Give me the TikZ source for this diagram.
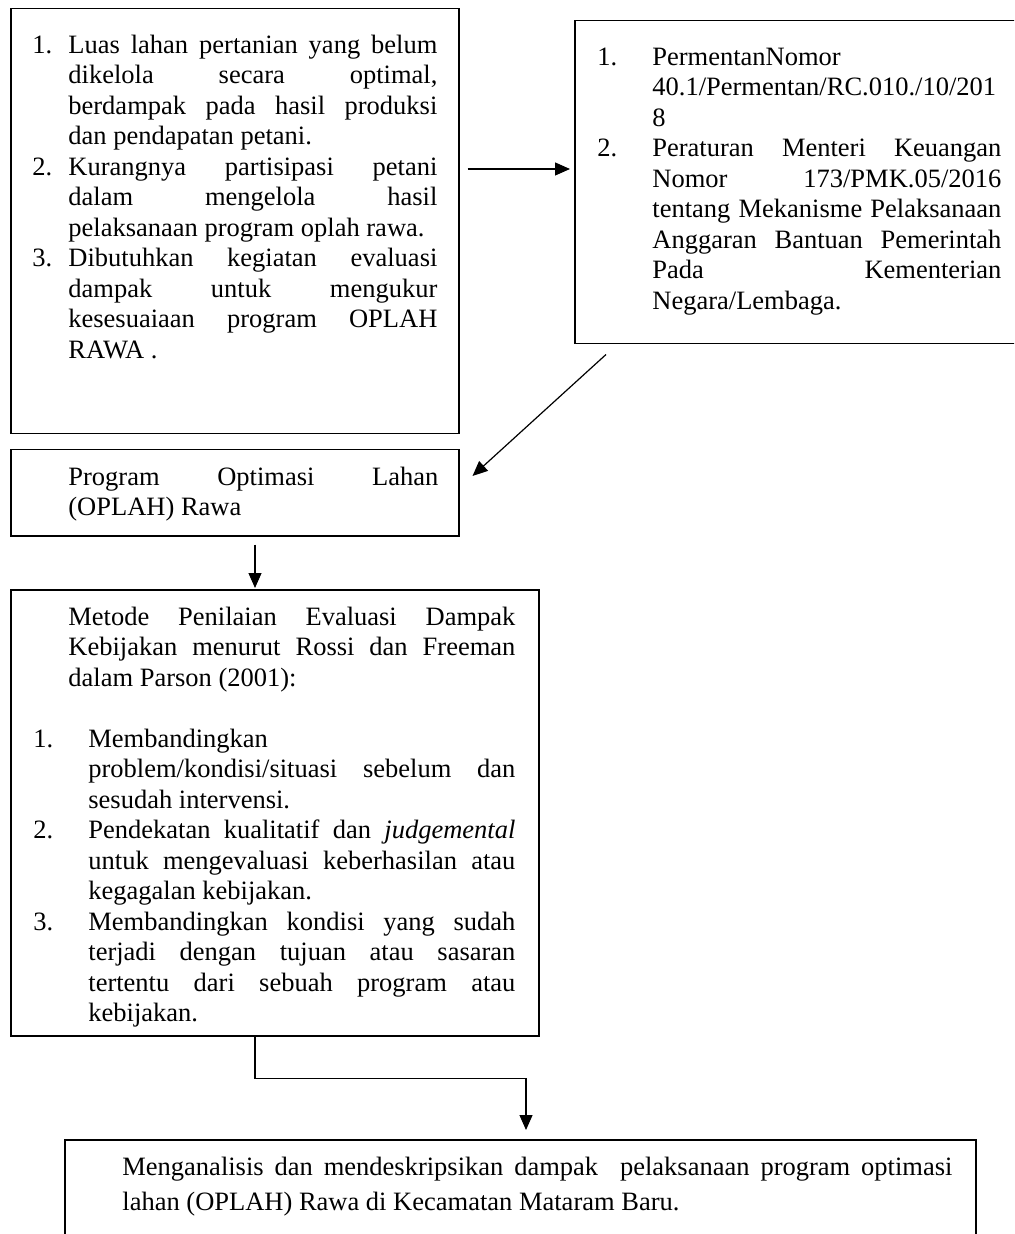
\documentclass[tikz,border=0pt]{standalone}
\usepackage{fontspec}
\setmainfont{Liberation Serif}
\usetikzlibrary{arrows.meta}
\newcommand\fstrut{\rule{0pt}{10.7pt}}
\newcommand\itm[2]{\par\noindent\hangindent=#1\hangafter=1\makebox[#1][l]{#2}\fstrut\ignorespaces}
\begin{document}
\begin{tikzpicture}[x=0.5pt,y=-0.5pt,
  boxnode/.style={draw,line width=0.75pt,inner sep=0pt,anchor=north west},
  txt/.style={anchor=north west,inner sep=0pt,align=justify,
    font=\fontsize{13.25pt}{15.25pt}\selectfont,
    execute at begin node={\pretolerance=10000\tolerance=10000\hbadness=10000\hfuzz=2pt\hyphenpenalty=10000}},
  conn/.style={line width=0.6pt,-{Triangle[length=7.5pt,width=6.5pt]}}]
\useasboundingbox (0,0) rectangle (1014,1234);
\clip (0,0) rectangle (1014,1234);
\fill[white] (0,0) rectangle (1014,1234);

% boxes
\node[boxnode,minimum width=224pt,minimum height=212.5pt] (b1) at (10,8) {};
\node[boxnode,minimum width=223pt,minimum height=161.5pt] (b2) at (574,20) {};
\node[boxnode,minimum width=224pt,minimum height=43pt] (b3) at (10,449) {};
\node[boxnode,minimum width=264pt,minimum height=223pt] (b4) at (10,589) {};
\node[boxnode,minimum width=455.5pt,minimum height=60pt] (b5) at (64,1139) {};

% texts
\node[txt,text width=202.5pt] (t1) at (32,22.6) {%
\itm{18pt}{1.}Luas lahan pertanian yang belum\linebreak dikelola secara optimal,\linebreak berdampak pada hasil produksi\linebreak dan pendapatan petani.
\itm{18pt}{2.}Kurangnya partisipasi petani\linebreak dalam mengelola hasil\linebreak pelaksanaan program oplah rawa.
\itm{18pt}{3.}Dibutuhkan kegiatan evaluasi\linebreak dampak untuk mengukur\linebreak kesesuaiaan program OPLAH\linebreak RAWA~.\par};

\node[txt,text width=202pt] (t2) at (597,34.6) {%
\itm{27.5pt}{1.}PermentanNomor\linebreak 40.1/Permentan/RC.010./10/201\linebreak 8
\itm{27.5pt}{2.}Peraturan Menteri Keuangan\linebreak Nomor 173/PMK.05/2016\linebreak tentang Mekanisme Pelaksanaan\linebreak Anggaran Bantuan Pemerintah\linebreak Pada Kementerian\linebreak Negara/Lembaga.\par};

\node[txt,text width=185pt] (t3) at (68,463.6) {%
\noindent\fstrut Program Optimasi Lahan\linebreak (OPLAH) Rawa\par};

\node[txt,text width=241pt] (t4) at (33,603.6) {%
\noindent\hangindent=17.5pt\hangafter=0\fstrut Metode Penilaian Evaluasi Dampak\linebreak Kebijakan menurut Rossi dan Freeman\linebreak dalam Parson (2001):\par
\vskip 15.25pt
\itm{27.5pt}{1.}Membandingkan\linebreak problem/kondisi/situasi sebelum dan\linebreak sesudah intervensi.
\itm{27.5pt}{2.}Pendekatan kualitatif dan \textit{judgemental}\linebreak untuk mengevaluasi keberhasilan atau\linebreak kegagalan kebijakan.
\itm{27.5pt}{3.}Membandingkan kondisi yang sudah\linebreak terjadi dengan tujuan atau sasaran\linebreak tertentu dari sebuah program atau\linebreak kebijakan.\par};

\node[txt,text width=415pt,font=\fontsize{13.25pt}{17.5pt}\selectfont] (t5) at (122,1153.6) {%
\noindent\fstrut Menganalisis dan mendeskripsikan dampak\ \ pelaksanaan program optimasi\linebreak lahan (OPLAH) Rawa di Kecamatan Mataram Baru.\par};

% connectors
\draw[conn] ([shift={(8,161)}]b1.north east) -- ([shift={(-4,149)}]b2.north west);
\draw[conn] ([shift={(32,10)}]b2.south west) -- ([shift={(13,27)}]b3.north east);
\draw[conn] ([shift={(245,8)}]b3.south west) -- ([shift={(245,-1)}]b4.north west);
\draw[conn] ([shift={(245,0)}]b4.south west) -- ++(0,42) -| ([shift={(462,-9)}]b5.north west);
\end{tikzpicture}
\end{document}
